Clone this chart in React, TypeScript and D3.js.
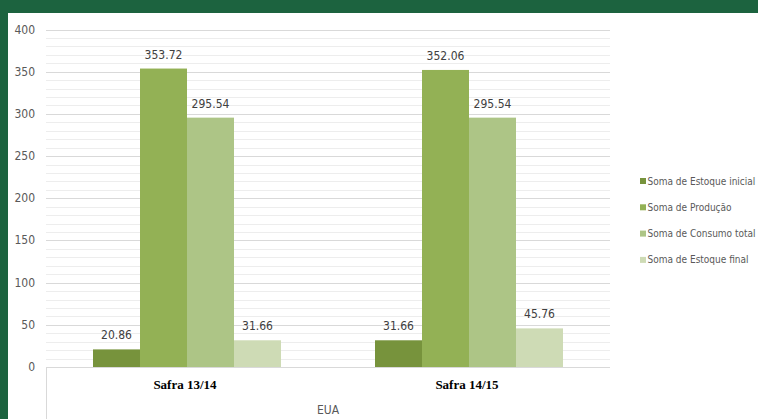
import React from "react";
import * as d3 from "d3";

const categories = ["Safra 13/14", "Safra 14/15"];
const seriesNames = [
  "Soma de Estoque inicial",
  "Soma de Produção",
  "Soma de Consumo total",
  "Soma de Estoque final",
];
const estoqueInicial = [20.86, 31.66];
const producao = [353.72, 352.06];
const consumoTotal = [295.54, 295.54];
const estoqueFinal = [31.66, 45.76];
const yTicks = [0, 50, 100, 150, 200, 250, 300, 350, 400];
const outerLabel = "EUA";

const colors = ["#77933c", "#93b155", "#adc586", "#cedbb5"];
const W = 758;
const H = 419;
const left = 46;
const right = 610;
const top = 29.5;
const bottom = 367;
const narrow = "'Liberation Sans Narrow', 'DejaVu Sans Condensed', sans-serif";

export default function App() {
  const seriesValues = [estoqueInicial, producao, consumoTotal, estoqueFinal];
  const x0 = d3.scaleBand<string>().domain(categories).range([left, right]).padding(0);
  const x1 = d3
    .scaleBand<number>()
    .domain(d3.range(seriesNames.length))
    .range([x0.bandwidth() / 6, (x0.bandwidth() * 5) / 6])
    .padding(0);
  const y = d3.scaleLinear().domain([0, 400]).range([bottom, top]);
  const minor = d3.range(0, 401, 10);

  return (
    <svg width={W} height={H} style={{ position: "absolute", left: 0, top: 0 }}>
      <rect x={0} y={0} width={W} height={H} fill="#1c633f" />
      <rect x={8} y={13} width={W - 8} height={H - 13} fill="#ffffff" />
      {minor.map((v) => (
        <line
          key={"m" + v}
          x1={left}
          x2={right}
          y1={Math.round(y(v)) + 0.5}
          y2={Math.round(y(v)) + 0.5}
          stroke={v % 50 === 0 ? "#d9d9d9" : "#ededed"}
          strokeWidth={1}
        />
      ))}
      {yTicks.map((v) => (
        <text
          key={"t" + v}
          x={35}
          y={y(v) + 4}
          textAnchor="end"
          fontSize={12}
          fontFamily={narrow}
          fill="#595959"
        >
          {v}
        </text>
      ))}
      {categories.map((c, ci) => (
        <g key={c}>
          {seriesValues.map((vals, si) => {
            const bx = (x0(c) as number) + (x1(si) as number);
            const bw = x1.bandwidth();
            return (
              <g key={si}>
                <rect x={bx} y={y(vals[ci])} width={bw} height={bottom - y(vals[ci])} fill={colors[si]} />
                <text
                  x={bx + bw / 2}
                  y={y(vals[ci]) - 10}
                  textAnchor="middle"
                  fontSize={12}
                  fontFamily={narrow}
                  fill="#404040"
                >
                  {vals[ci].toFixed(2)}
                </text>
              </g>
            );
          })}
          <text
            x={(x0(c) as number) + x0.bandwidth() / 2 - 2}
            y={389}
            textAnchor="middle"
            fontSize={13}
            fontWeight="bold"
            fontFamily="'Liberation Serif', 'DejaVu Serif', serif"
            fill="#000000"
          >
            {c}
          </text>
        </g>
      ))}
      <line x1={left} x2={right} y1={bottom + 0.5} y2={bottom + 0.5} stroke="#d9d9d9" />
      <line x1={left + 0.5} x2={left + 0.5} y1={bottom} y2={H} stroke="#d9d9d9" />
      <text
        x={(left + right) / 2}
        y={414}
        textAnchor="middle"
        fontSize={12}
        fontFamily={narrow}
        fill="#595959"
      >
        {outerLabel}
      </text>
      {seriesNames.map((s, i) => (
        <g key={s} transform={`translate(640, ${181 + i * 26.3})`}>
          <rect x={0} y={-3} width={6} height={6} fill={colors[i]} />
          <text x={7.5} y={3.5} fontSize={10} fontFamily={narrow} fill="#595959">
            {s}
          </text>
        </g>
      ))}
    </svg>
  );
}
